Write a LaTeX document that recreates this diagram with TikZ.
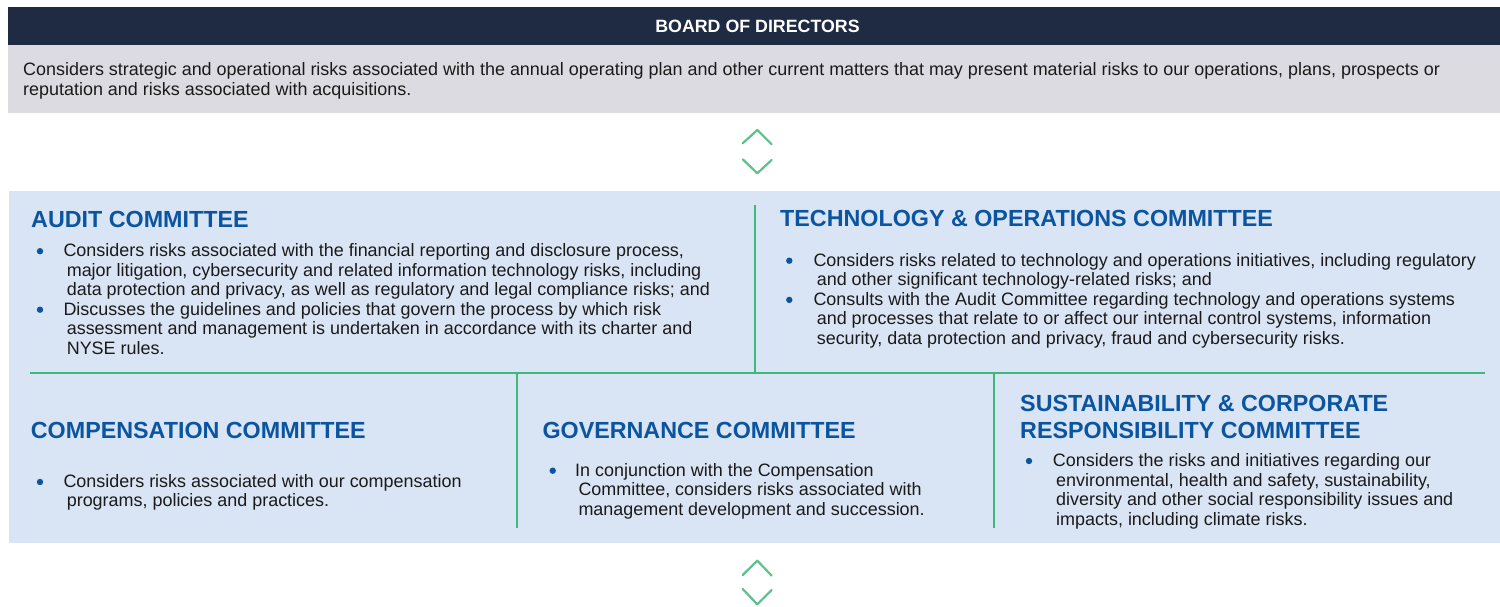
\documentclass[tikz,border=0pt]{standalone}
\usepackage{fontspec}
\setmainfont{Liberation Sans}
\definecolor{hdr}{HTML}{1E2B42}
\definecolor{graybg}{HTML}{DCDBE1}
\definecolor{bluebg}{HTML}{D9E4F4}
\definecolor{ttl}{HTML}{0B55A0}
\definecolor{txt}{HTML}{1A1A1A}
\definecolor{grn}{HTML}{3DB97A}
\definecolor{chev}{HTML}{5EC08C}
\newcommand\mylines[1]{\parbox[t]{1480pt}{\raggedright #1}}
\newcommand\ind{\hspace*{3.3pt}}
\tikzset{
 body/.style={anchor=base west, inner sep=0, text=txt, font=\fontsize{17.95}{19.6}\selectfont},
 ttlstyle/.style={anchor=base west, inner sep=0, text=ttl, font=\fontsize{23.3}{26.6}\selectfont\bfseries},
 dot/.style={circle, fill=ttl, inner sep=0, minimum size=6.4pt},
 divider/.style={draw=grn, line width=1.3pt},
 chevron/.style={draw=chev, line width=2.2pt, line cap=round, line join=round},
}
\begin{document}
\begin{tikzpicture}[x=1pt,y=-1pt]
\useasboundingbox (0,0) rectangle (1500,607);
% backgrounds
\fill[hdr] (8,7) rectangle (1500,45);
\fill[graybg] (8,45) rectangle (1500,113.3);
\fill[bluebg] (9,191) rectangle (1500,543);
% board
\node[anchor=base, inner sep=0, text=white, font=\fontsize{17.8}{20}\selectfont\bfseries] (board) at (757.5,32.3) {BOARD OF DIRECTORS};
\node[body] (boardtxt) at (23,76) {\mylines{Considers strategic and operational risks associated with the annual operating plan and other current matters that may present material risks to our operations, plans, prospects or\\reputation and risks associated with acquisitions.}};
% chevrons
\draw[chevron] (742.7,143.3) -- (757.3,130) -- (771.7,144.3);
\draw[chevron] (742.7,159.3) -- (757.3,173.3) -- (771.7,160);
\draw[chevron] (742.7,575) -- (757.3,560.7) -- (771.7,575.7);
\draw[chevron] (742.7,589) -- (757.3,604.3) -- (771.7,590);
% dividers
\coordinate (v1t) at (755,205); \coordinate (v1b) at (755,373);
\coordinate (hl) at (30,373); \coordinate (hr) at (1485,373);
\coordinate (v2t) at (517,373); \coordinate (v2b) at (517,528.3);
\coordinate (v3t) at (994,373); \coordinate (v3b) at (994,528.3);
\draw[divider] (v1t) -- (v1b);
\draw[divider] (hl) -- (hr);
\draw[divider] (v2t) -- (v2b);
\draw[divider] (v3t) -- (v3b);
% audit
\node[ttlstyle] (audit) at (31,227.3) {AUDIT COMMITTEE};
\node[dot] (ad1) at (40,251.2) {};
\node[body] (at1) at (63.3,256.5) {\mylines{Considers risks associated with the financial reporting and disclosure process,\\\ind major litigation, cybersecurity and related information technology risks, including\\\ind data protection and privacy, as well as regulatory and legal compliance risks; and}};
\node[dot] (ad2) at (40,309.7) {};
\node[body] (at2) at (63.3,315) {\mylines{Discusses the guidelines and policies that govern the process by which risk\\\ind assessment and management is undertaken in accordance with its charter and\\\ind NYSE rules.}};
% technology
\node[ttlstyle] (tech) at (780,226.7) {TECHNOLOGY \& OPERATIONS COMMITTEE};
\node[dot] (td1) at (789.3,260.7) {};
\node[body] (tt1) at (813.3,266) {\mylines{Considers risks related to technology and operations initiatives, including regulatory\\\ind and other significant technology-related risks; and}};
\node[dot] (td2) at (789.3,299.9) {};
\node[body] (tt2) at (813.3,305.2) {\mylines{Consults with the Audit Committee regarding technology and operations systems\\\ind and processes that relate to or affect our internal control systems, information\\\ind security, data protection and privacy, fraud and cybersecurity risks.}};
% compensation
\node[ttlstyle] (comp) at (30.7,438.3) {COMPENSATION COMMITTEE};
\node[dot] (cd1) at (40,482) {};
\node[body] (ct1) at (63.3,487.3) {\mylines{Considers risks associated with our compensation\\\ind programs, policies and practices.}};
% governance
\node[ttlstyle] (gov) at (542.3,438.3) {GOVERNANCE COMMITTEE};
\node[dot] (gd1) at (552.7,470.7) {};
\node[body] (gt1) at (575,476) {\mylines{In conjunction with the Compensation\\\ind Committee, considers risks associated with\\\ind management development and succession.}};
% sustainability
\node[ttlstyle] (sust) at (1020,411.7) {\mylines{SUSTAINABILITY \& CORPORATE\\RESPONSIBILITY COMMITTEE}};
\node[dot] (sd1) at (1029,461) {};
\node[body] (st1) at (1052.7,466.7) {\mylines{Considers the risks and initiatives regarding our\\\ind environmental, health and safety, sustainability,\\\ind diversity and other social responsibility issues and\\\ind impacts, including climate risks.}};
\end{tikzpicture}
\end{document}
